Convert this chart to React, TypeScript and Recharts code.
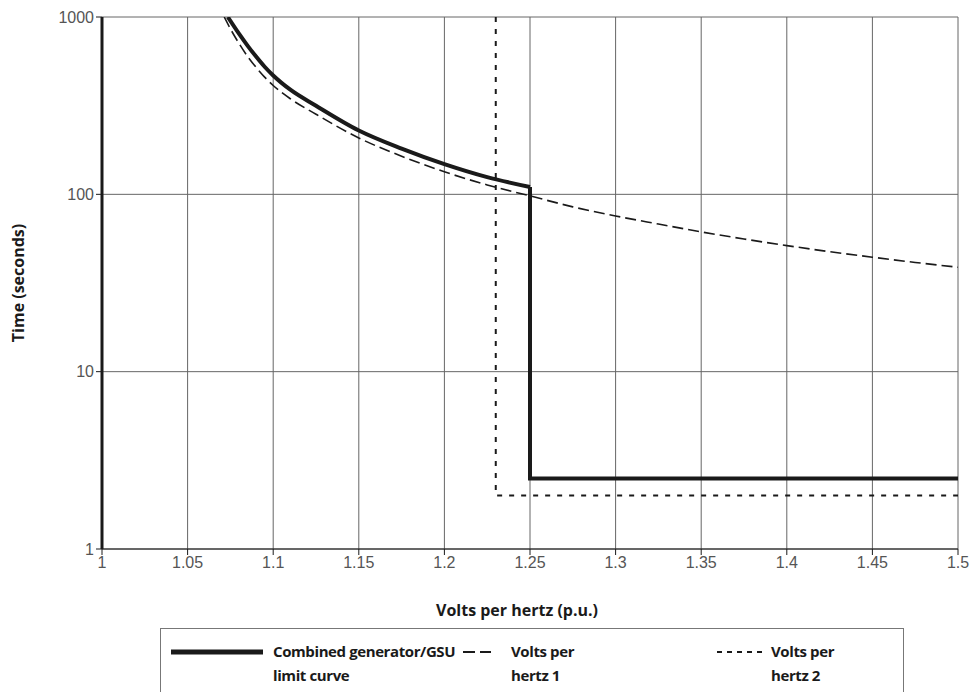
import React from 'react';
import { LineChart, Line, XAxis, YAxis, CartesianGrid } from 'recharts';

// volts per hertz (p.u.) / time (s)
const combinedV = [1.0735, 1.08, 1.085, 1.09, 1.095, 1.1, 1.11, 1.125, 1.15, 1.175, 1.2, 1.225, 1.25];
const combinedT = [1000, 805, 690, 598, 524, 468, 389, 316, 229, 181, 148, 125, 110];
const combinedStepV = [1.25, 1.25, 1.5];
const combinedStepT = [110, 2.5, 2.5];

const vph1V = [1.0714, 1.075, 1.08, 1.085, 1.09, 1.095, 1.1, 1.11, 1.125, 1.15, 1.175, 1.2, 1.225, 1.25, 1.275, 1.3, 1.325, 1.35, 1.375, 1.4, 1.425, 1.45, 1.475, 1.5];
const vph1T = [1000, 858, 710, 600, 520, 458, 411, 346, 283, 208, 164, 134, 113, 98, 85, 75.5, 68, 61.4, 56, 51.4, 47.5, 44.2, 41.3, 38.8];

const vph2V = [1.23, 1.23, 1.5];
const vph2T = [1000, 2, 2];

const xTicks = [1, 1.05, 1.1, 1.15, 1.2, 1.25, 1.3, 1.35, 1.4, 1.45, 1.5];
const yTicks = [1, 10, 100, 1000];

const toPoints = (vs: number[], ts: number[]) => vs.map((v, i) => ({ v, t: ts[i] }));

const combined = toPoints(combinedV, combinedT);
const combinedStep = toPoints(combinedStepV, combinedStepT);
const vph1 = toPoints(vph1V, vph1T);
const vph2 = toPoints(vph2V, vph2T);

const tickFont = '"Liberation Sans Narrow", "Liberation Sans", sans-serif';
const titleFont = '"Open Sans", "Noto Sans", sans-serif';
const ink = '#1a1a1a';

export default function App() {
  return (
    <div style={{ position: 'absolute', left: 0, top: 0, width: 974, height: 692, background: '#fff', overflow: 'hidden' }}>
      <LineChart width={974} height={600} margin={{ top: 17, right: 16, left: 42, bottom: 21 }}>
        <CartesianGrid stroke="#666" strokeWidth={1} />
        <XAxis
          dataKey="v"
          type="number"
          domain={[1, 1.5]}
          ticks={xTicks}
          tickFormatter={(v: number) => String(v)}
          height={30}
          stroke={ink}
          tickSize={6}
          tick={{ fill: '#555', fontSize: 16, fontFamily: tickFont }}
          allowDataOverflow
        />
        <YAxis
          type="number"
          scale="log"
          domain={[1, 1000]}
          ticks={yTicks}
          width={60}
          axisLine={{ stroke: ink, strokeWidth: 3 }}
          tickLine={{ stroke: ink }}
          tickSize={6}
          tick={{ fill: '#555', fontSize: 16, fontFamily: tickFont }}
          allowDataOverflow
        />
        <Line data={vph2} dataKey="t" type="linear" stroke={ink} strokeWidth={2} strokeDasharray="5 7" dot={false} isAnimationActive={false} />
        <Line data={vph1} dataKey="t" type="monotone" stroke={ink} strokeWidth={1.6} strokeDasharray="11 5" dot={false} isAnimationActive={false} />
        <Line data={combined} dataKey="t" type="monotone" stroke={ink} strokeWidth={4} dot={false} isAnimationActive={false} />
        <Line data={combinedStep} dataKey="t" type="linear" stroke={ink} strokeWidth={4} dot={false} isAnimationActive={false} />
      </LineChart>

      <div
        style={{
          position: 'absolute', left: 18, top: 283, transform: 'translate(-50%, -50%) rotate(-90deg)',
          fontFamily: titleFont, fontWeight: 700, fontSize: 16, color: ink, whiteSpace: 'nowrap',
        }}
      >
        Time (seconds)
      </div>
      <div
        style={{
          position: 'absolute', left: 517, top: 610, transform: 'translate(-50%, -50%)',
          fontFamily: titleFont, fontWeight: 700, fontSize: 16, color: ink, whiteSpace: 'nowrap',
        }}
      >
        Volts per hertz (p.u.)
      </div>

      <div
        style={{
          position: 'absolute', left: 160, top: 628, width: 744, height: 80,
          border: '1px solid #777', boxSizing: 'border-box',
          fontFamily: titleFont, fontWeight: 700, fontSize: 15, letterSpacing: -0.4, color: ink, lineHeight: '24px',
        }}
      >
        <svg width={744} height={40} style={{ position: 'absolute', left: 0, top: 0 }}>
          <line x1={10} x2={102} y1={23} y2={23} stroke={ink} strokeWidth={5} />
          <line x1={302} x2={330} y1={23} y2={23} stroke={ink} strokeWidth={2} strokeDasharray="12 5" />
          <line x1={556} x2={601} y1={23} y2={23} stroke={ink} strokeWidth={2} strokeDasharray="5 5" />
        </svg>
        <div style={{ position: 'absolute', left: 112, top: 10 }}>Combined generator/GSU<br />limit curve</div>
        <div style={{ position: 'absolute', left: 350, top: 10 }}>Volts per<br />hertz 1</div>
        <div style={{ position: 'absolute', left: 610, top: 10 }}>Volts per<br />hertz 2</div>
      </div>
    </div>
  );
}
